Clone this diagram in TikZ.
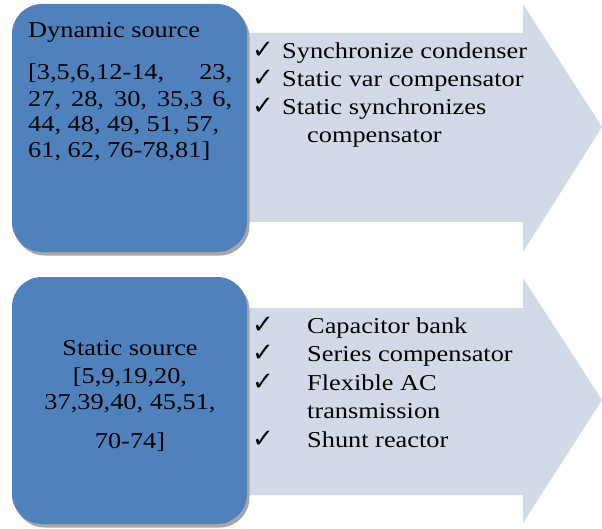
\documentclass[tikz,border=0pt]{standalone}
\usepackage{fontspec}
\setmainfont{Liberation Serif}
\newfontfamily\symfont{DejaVu Sans}
\definecolor{boxblue}{HTML}{4F81BD}
\definecolor{arrowfill}{HTML}{D3DAE7}
\definecolor{shadowgray}{HTML}{A6A6A6}
\newcommand{\chk}{{\symfont\fontsize{26bp}{26bp}\selectfont ✓}}
\newcommand{\sx}[1]{\scalebox{1.16}[1]{#1}}
\begin{document}
\begin{tikzpicture}[x=1bp,y=-1bp,
  txt/.style={inner sep=0pt,anchor=base west,font=\fontsize{22.7bp}{26bp}\selectfont},
  ctxt/.style={inner sep=0pt,anchor=base,font=\fontsize{22.7bp}{26bp}\selectfont},
  ck/.style={inner sep=0pt,anchor=base west},
  bigarrow/.style={fill=arrowfill},
  srcbox/.style={fill=boxblue,rounded corners=30bp},
  srcshadow/.style={fill=shadowgray,rounded corners=30bp}]
\useasboundingbox (0,0) rectangle (602,529);
% arrows
\fill[bigarrow] (200,33) -- (523,33) -- (523,4) -- (602,127) -- (523,252) -- (523,222) -- (200,222) -- cycle;
\fill[bigarrow] (200,308) -- (523,308) -- (523,278) -- (602,400) -- (523,523) -- (523,495) -- (200,495) -- cycle;
% boxes
\fill[srcshadow] (14.5,7.5) rectangle (249.5,255.5);
\fill[srcbox] (12,4) rectangle (247,252);
\fill[srcshadow] (14.5,280.5) rectangle (249.5,527.5);
\fill[srcbox] (12,277) rectangle (247,524);
% top box text
\node[txt] (d0) at (28,38) {\sx{Dynamic source}};
\node[txt] (d1) at (28,80) {\sx{\makebox[175.9bp][s]{[3,5,6,12-14, 23,}}};
\node[txt] (d2) at (28,107) {\sx{\makebox[175.9bp][s]{27, 28, 30, 35,3 6,}}};
\node[txt] (d3) at (28,132) {\sx{44, 48, 49, 51, 57,}};
\node[txt] (d4) at (28,158) {\sx{61, 62, 76-78,81]}};
% top arrow text
\node[ck] (c1) at (252,59) {\chk};
\node[ck] (c2) at (252,87) {\chk};
\node[ck] (c3) at (252,115) {\chk};
\node[txt] (t1) at (282,59) {\sx{Synchronize condenser}};
\node[txt] (t2) at (282,87) {\sx{Static var compensator}};
\node[txt] (t3) at (282,115) {\sx{Static synchronizes}};
\node[txt] (t4) at (307,143) {\sx{compensator}};
% bottom box text
\node[ctxt] (s0) at (130,355) {\sx{Static source}};
\node[ctxt] (s1) at (130,383) {\sx{[5,9,19,20,}};
\node[ctxt] (s2) at (130,409) {\sx{37,39,40, 45,51,}};
\node[ctxt] (s3) at (130,448) {\sx{70-74]}};
% bottom arrow text
\node[ck] (e1) at (252,333) {\chk};
\node[ck] (e2) at (252,361) {\chk};
\node[ck] (e3) at (252,390) {\chk};
\node[ck] (e4) at (252,447) {\chk};
\node[txt] (b1) at (307,333) {\sx{Capacitor bank}};
\node[txt] (b2) at (307,361) {\sx{Series compensator}};
\node[txt] (b3) at (307,390) {\sx{Flexible AC}};
\node[txt] (b4) at (307,418) {\sx{transmission}};
\node[txt] (b5) at (307,447) {\sx{Shunt reactor}};
\end{tikzpicture}
\end{document}
